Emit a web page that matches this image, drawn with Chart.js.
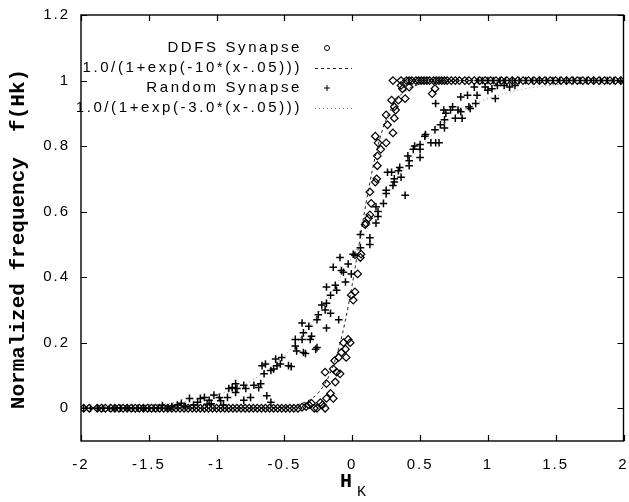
<!DOCTYPE html>
<html>
<head>
<meta charset="utf-8">
<script src="https://cdn.jsdelivr.net/npm/chart.js@4.4.1/dist/chart.umd.min.js"></script>
<style>
  html, body { margin: 0; padding: 0; background: #fff; }
  #c { display: block; }
</style>
</head>
<body>
<canvas id="c" width="629" height="502"></canvas>
<script>
// ---- tick labels ----
const xTicks = [-2, -1.5, -1, -0.5, 0, 0.5, 1, 1.5, 2];
const yTicks = [0, 0.2, 0.4, 0.6, 0.8, 1, 1.2];

// ---- series labels ----
const seriesNames = [
  'DDFS Synapse',
  '1.0/(1+exp(-10*(x-.05)))',
  'Random Synapse',
  '1.0/(1+exp(-3.0*(x-.05)))'
];

// ---- DDFS Synapse (open diamonds) ----
const ddfsX = [
  -1.98,-1.94,-1.88,-1.85,-1.82,-1.78,-1.75,-1.72,-1.69,-1.66,-1.63,-1.60,-1.57,-1.54,-1.51,-1.48,
  -1.45,-1.42,-1.39,-1.36,-1.33,-1.30,-1.27,-1.24,-1.21,-1.18,-1.15,-1.12,-1.09,-1.06,-1.03,-1.00,
  -0.97,-0.94,-0.91,-0.88,-0.85,-0.82,-0.79,-0.76,-0.73,-0.70,-0.67,-0.64,-0.61,-0.58,-0.55,-0.52,
  -0.49,-0.46,-0.43,
  -0.40,-0.37,-0.34,-0.32,-0.30,-0.28,-0.26,-0.235,-0.22,-0.20,-0.19,-0.16,-0.14,
  -0.20,-0.19,-0.14,-0.125,-0.13,-0.115,-0.09,-0.10,-0.08,-0.05,-0.045,-0.065,-0.03,-0.015,
  -0.007,0.007,0.02,0.04,0.06,0.065,0.095,0.10,0.12,0.13,0.14,0.13,0.17,0.18,0.185,0.185,
  0.21,0.17,0.19,0.25,0.30,0.26,0.25,0.31,0.29,0.31,0.32,0.34,0.39,0.36,0.37,0.42,0.61,0.59,
  0.30,0.36,0.40,0.42,0.44,0.47,0.49,0.51,0.53,0.55,0.57,0.60,0.62,0.64,0.66,0.68,0.70,0.73,
  0.76,0.79,0.83,0.86,0.90,0.94,0.98,1.02,1.06,1.10,1.14,1.18,1.22,1.26,1.30,1.34,1.38,1.42,
  1.46,1.50,1.54,1.58,1.62,1.66,1.70,1.74,1.78,1.82,1.86,1.90,1.94,1.98
];
const ddfsY = [
  0,0,0,0,0,0,0,0,0,0,0,0,0,0,0,0,
  0,0,0,0,0,0,0,0,0,0,0,0,0,0,0,0,
  0,0,0,0,0,0,0,0,0,0,0,0,0,0,0,0,
  0,0,0,
  0,0.003,0.005,0.01,0.015,0,0,0.017,0.01,0,0.03,0.045,0.03,
  0.11,0.075,0.12,0.08,0.145,0.11,0.105,0.155,0.17,0.18,0.155,0.20,0.21,0.20,
  0.345,0.33,0.355,0.41,0.46,0.47,0.56,0.565,0.58,0.59,0.625,0.66,0.69,0.70,0.77,0.74,
  0.79,0.83,0.81,0.81,0.84,0.865,0.895,0.885,0.94,0.92,0.91,0.94,0.945,0.985,0.975,0.98,0.975,0.96,
  1,1,1,1,1,1,1,1,1,1,1,1,1,1,1,1,1,1,
  1,1,1,1,1,1,1,1,1,1,1,1,1,1,1,1,1,1,
  1,1,1,1,1,1,1,1,1,1,1,1,1,1
];

// ---- Random Synapse (plus signs) ----
const randX = [
  -1.98,-1.93,-1.88,-1.84,-1.79,-1.75,-1.71,-1.66,-1.62,-1.58,-1.54,-1.50,-1.46,-1.43,
  -1.40,-1.36,-1.33,-1.29,-1.26,-1.23,-1.20,-1.17,-1.14,-1.12,-1.09,-1.07,-1.055,-1.04,-1.02,
  -0.98,-0.97,-0.95,-0.92,-0.91,-0.885,-0.86,-0.86,-0.85,-0.80,-0.785,-0.80,-0.75,-0.725,-0.69,
  -0.675,-0.63,-0.60,-0.665,-0.65,-0.64,-0.60,-0.58,-0.565,-0.555,-0.53,-0.52,-0.47,-0.45,
  -0.42,-0.42,-0.41,-0.37,-0.37,-0.36,-0.36,-0.345,-0.32,-0.31,-0.30,-0.27,-0.26,-0.26,-0.25,
  -0.225,-0.20,-0.19,-0.19,-0.16,-0.19,-0.16,-0.14,-0.125,-0.115,-0.10,-0.09,-0.08,-0.065,-0.05,
  -0.03,-0.007,0.007,0.02,0.06,0.06,0.13,0.13,0.175,0.175,0.19,0.19,0.23,0.25,0.25,0.26,0.29,
  0.30,0.31,0.31,0.34,0.35,0.36,0.39,0.41,0.42,0.42,0.45,0.46,0.50,0.50,0.50,0.535,0.54,0.58,
  0.61,0.615,0.615,0.64,0.65,0.675,0.68,0.68,0.69,0.725,0.74,0.76,0.78,0.80,0.80,0.81,0.85,
  0.86,0.87,0.90,0.91,0.92,0.98,1.00,1.03,1.055,1.07,1.12,1.16,1.20,
  0.93,0.96,1.00,1.04,1.09,1.13,1.18,1.23,1.28,1.33,1.38,1.43,1.48,1.53,1.58,1.63,1.68,1.73,
  1.78,1.83,1.88,1.93,1.98
];
const randY = [
  0,0,0,0,0,0,0,0,0,0,0,0,0,0,
  0.008,0,0.005,0.01,0.015,0.005,0.03,0.01,0.018,0.03,0.033,0.012,0.024,0.014,0.04,
  0.033,0.023,0.01,0.033,0.06,0.063,0.075,0.048,0.06,0.07,0.06,0.024,0.033,0.07,0.063,
  0.075,0.038,0.018,0.13,0.105,0.135,0.115,0.12,0.15,0.13,0.135,0.155,0.13,0.127,
  0.19,0.21,0.175,0.26,0.21,0.23,0.17,0.167,0.25,0.21,0.22,0.18,0.27,0.185,0.285,
  0.315,0.30,0.32,0.245,0.29,0.37,0.345,0.43,0.375,0.36,0.27,0.46,0.42,0.415,0.385,
  0.44,0.41,0.47,0.467,0.53,0.49,0.52,0.50,0.565,0.615,0.60,0.585,0.625,0.665,0.655,0.72,0.72,
  0.68,0.69,0.70,0.725,0.735,0.705,0.65,0.77,0.755,0.74,0.79,0.80,0.765,0.79,0.805,0.83,0.835,0.81,
  0.85,0.81,0.93,0.81,0.865,0.91,0.855,0.88,0.90,0.91,0.92,0.885,0.91,0.95,0.905,0.885,0.955,
  0.92,0.915,0.98,0.93,0.955,0.98,0.97,0.975,0.945,0.985,0.985,0.98,0.985,
  1,1,1,1,1,1,1,1,1,1,1,1,1,1,1,1,1,1,
  1,1,1,1,1
];

// ---- fitted curves ----
const fitX = [-2,-1.5,-1.25,-1,-0.8,-0.7,-0.6,-0.5,-0.4,-0.3,-0.25,-0.2,-0.15,-0.1,-0.05,0,0.05,0.1,0.15,0.2,0.25,0.3,0.35,0.4,0.5,0.6,0.7,0.8,0.9,1,1.25,1.5,1.75,2];
const fitDdfsY = [0,0,0,0,0.0002,0.0006,0.0015,0.004,0.011,0.029,0.047,0.076,0.119,0.182,0.269,0.378,0.5,0.622,0.731,0.818,0.881,0.924,0.953,0.971,0.989,0.996,0.998,0.999,1,1,1,1,1,1];
const fitRandY = [0.002,0.010,0.020,0.041,0.072,0.095,0.125,0.161,0.206,0.259,0.289,0.321,0.354,0.389,0.426,0.463,0.5,0.537,0.574,0.611,0.646,0.679,0.711,0.741,0.794,0.839,0.876,0.905,0.928,0.945,0.973,0.987,0.994,0.997];

const pts = (xs, ys) => xs.map((x, i) => ({ x: x, y: ys[i] }));

const TICK_FONT = '15px "Liberation Sans", Arial, sans-serif';

const framePlugin = {
  id: 'frame',
  beforeDraw(chart) {
    chart.ctx.letterSpacing = '2px';
  },
  afterDraw(chart) {
    const ctx = chart.ctx;
    const a = chart.chartArea;
    const xs = chart.scales.x, ys = chart.scales.y;
    ctx.save();
    ctx.letterSpacing = '0px';
    ctx.strokeStyle = '#000';
    ctx.lineWidth = 1.4;
    ctx.strokeRect(a.left, a.top, a.right - a.left, a.bottom - a.top);
    ctx.lineWidth = 1.2;
    ctx.beginPath();
    xTicks.forEach(v => {
      const p = Math.round(xs.getPixelForValue(v)) + 0.5;
      ctx.moveTo(p, a.bottom); ctx.lineTo(p, a.bottom - 6);
      ctx.moveTo(p, a.top); ctx.lineTo(p, a.top + 6);
    });
    yTicks.forEach(v => {
      const p = Math.round(ys.getPixelForValue(v)) + 0.5;
      ctx.moveTo(a.left, p); ctx.lineTo(a.left + 6, p);
      ctx.moveTo(a.right, p); ctx.lineTo(a.right - 6, p);
    });
    ctx.stroke();

    // legend
    const ds = chart.data.datasets;
    const lx = 300, sx = 327;
    const rows = [48, 68, 88, 108];
    ctx.font = TICK_FONT;
    ctx.letterSpacing = '2.6px';
    ctx.fillStyle = '#000';
    ctx.textAlign = 'right';
    ctx.textBaseline = 'middle';
    ds.forEach((d, i) => {
      ctx.fillText(d.label, lx + 2, rows[i]);
    });
    ctx.letterSpacing = '0px';
    // symbols
    ctx.lineWidth = 1;
    ctx.strokeStyle = '#000';
    ctx.beginPath(); ctx.arc(sx, rows[0], 2.5, 0, Math.PI * 2); ctx.stroke();
    ctx.save();
    ctx.setLineDash(ds[1].borderDash);
    ctx.strokeStyle = ds[1].borderColor;
    ctx.beginPath(); ctx.moveTo(315, rows[1] + 0.5); ctx.lineTo(352, rows[1] + 0.5); ctx.stroke();
    ctx.setLineDash(ds[3].borderDash);
    ctx.strokeStyle = ds[3].borderColor;
    ctx.beginPath(); ctx.moveTo(315, rows[3] + 0.5); ctx.lineTo(352, rows[3] + 0.5); ctx.stroke();
    ctx.restore();
    ctx.beginPath();
    ctx.moveTo(sx - 3, rows[2]); ctx.lineTo(sx + 3, rows[2]);
    ctx.moveTo(sx, rows[2] - 3); ctx.lineTo(sx, rows[2] + 3);
    ctx.stroke();

    // axis titles
    ctx.save();
    ctx.translate(19, 239);
    ctx.rotate(-Math.PI / 2);
    ctx.font = 'bold 21px "Liberation Mono", "Courier New", monospace';
    ctx.textAlign = 'center';
    ctx.textBaseline = 'middle';
    ctx.fillText('Normalized frequency  f(Hk)', 0, 0);
    ctx.restore();

    ctx.font = 'bold 20px "Liberation Mono", "Courier New", monospace';
    ctx.textAlign = 'left';
    ctx.textBaseline = 'alphabetic';
    ctx.fillText('H', 340, 487);
    ctx.font = '15px "Liberation Mono", "Courier New", monospace';
    ctx.fillText('K', 357, 496);
    ctx.restore();
  }
};

new Chart(document.getElementById('c'), {
  type: 'scatter',
  data: {
    datasets: [
      {
        label: seriesNames[0],
        data: pts(ddfsX, ddfsY),
        pointStyle: 'rectRot',
        pointRadius: 3.8,
        borderColor: '#000',
        backgroundColor: 'rgba(255,255,255,0)',
        borderWidth: 1.2,
        showLine: false
      },
      {
        label: seriesNames[1],
        data: pts(fitX, fitDdfsY),
        showLine: true,
        pointRadius: 0,
        borderColor: '#222',
        borderWidth: 1,
        borderDash: [3, 3],
        cubicInterpolationMode: 'monotone',
        fill: false
      },
      {
        label: seriesNames[2],
        data: pts(randX, randY),
        pointStyle: 'cross',
        pointRadius: 3.8,
        borderColor: '#000',
        borderWidth: 1.5,
        showLine: false
      },
      {
        label: seriesNames[3],
        data: pts(fitX, fitRandY),
        showLine: true,
        pointRadius: 0,
        borderColor: '#888',
        borderWidth: 1,
        borderDash: [1, 3],
        cubicInterpolationMode: 'monotone',
        fill: false
      }
    ]
  },
  options: {
    responsive: false,
    animation: false,
    devicePixelRatio: 1,
    layout: { padding: { top: 15, right: 2, left: 0, bottom: 0 } },
    plugins: { legend: { display: false }, tooltip: { enabled: false } },
    scales: {
      x: {
        type: 'linear',
        min: -2, max: 2,
        grid: { drawOnChartArea: false, drawTicks: false },
        border: { display: false },
        ticks: {
          font: { family: '"Liberation Sans", Arial, sans-serif', size: 15 },
          color: '#000',
          padding: 15,
          maxRotation: 0,
          autoSkip: false,
          callback: v => String(v)
        },
        afterBuildTicks: s => { s.ticks = xTicks.map(v => ({ value: v })); },
        afterFit: s => { s.height = 61; s.paddingLeft = 0; s.paddingRight = 0; }
      },
      y: {
        type: 'linear',
        min: -0.1, max: 1.2,
        grid: { drawOnChartArea: false, drawTicks: false },
        border: { display: false },
        ticks: {
          font: { family: '"Liberation Sans", Arial, sans-serif', size: 15 },
          color: '#000',
          padding: 11,
          autoSkip: false,
          callback: v => String(v)
        },
        afterBuildTicks: s => { s.ticks = yTicks.map(v => ({ value: v })); },
        afterFit: s => { s.width = 81; s.paddingTop = 0; s.paddingBottom = 0; }
      }
    }
  },
  plugins: [framePlugin]
});
</script>
</body>
</html>
